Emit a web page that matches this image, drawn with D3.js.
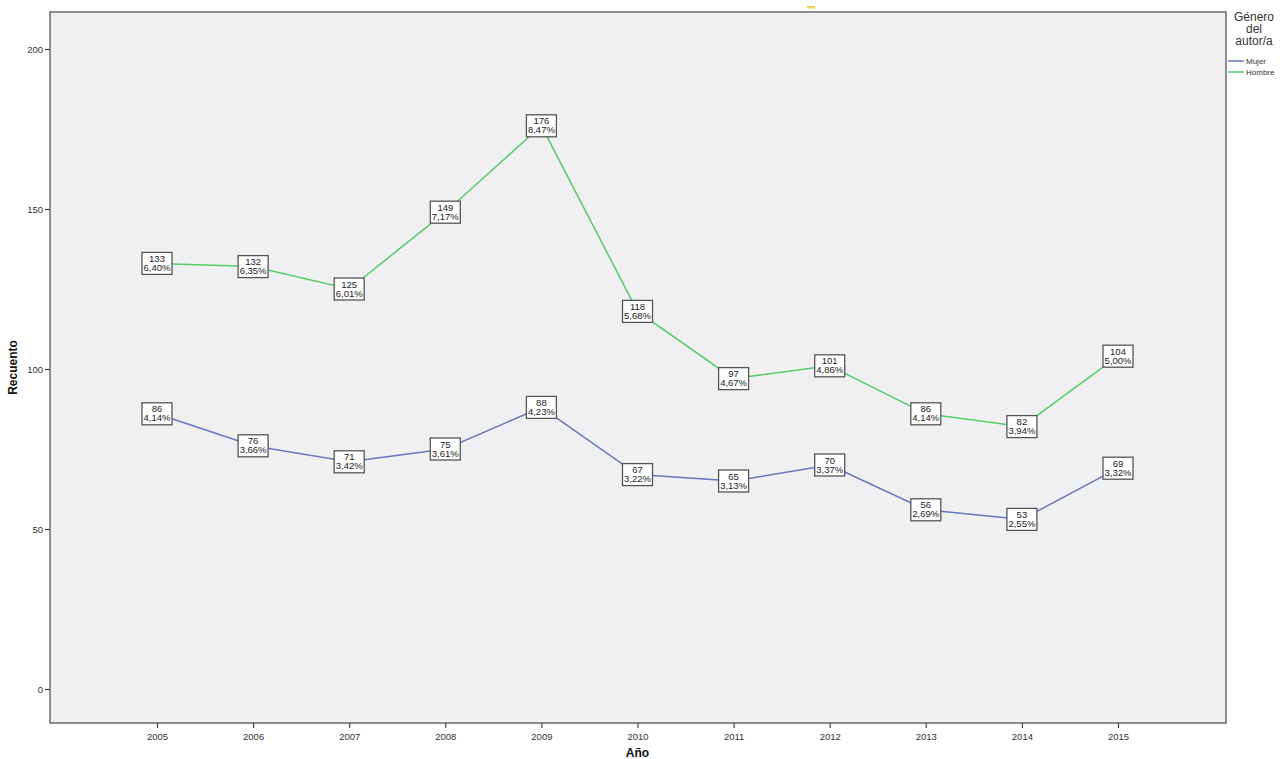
<!DOCTYPE html>
<html>
<head>
<meta charset="utf-8">
<script src="https://cdn.jsdelivr.net/npm/d3@7"></script>
<style>
  body { margin: 0; background: #fff; }
  svg { font-family: Arial, "Liberation Sans", sans-serif; }
</style>
</head>
<body>
<div id="chart"></div>
<script>
// data
const years = [2005, 2006, 2007, 2008, 2009, 2010, 2011, 2012, 2013, 2014, 2015];
const mujer = [86, 76, 71, 75, 88, 67, 65, 70, 56, 53, 69];
const mujerPct = ["4,14%", "3,66%", "3,42%", "3,61%", "4,23%", "3,22%", "3,13%", "3,37%", "2,69%", "2,55%", "3,32%"];
const hombre = [133, 132, 125, 149, 176, 118, 97, 101, 86, 82, 104];
const hombrePct = ["6,40%", "6,35%", "6,01%", "7,17%", "8,47%", "5,68%", "4,67%", "4,86%", "4,14%", "3,94%", "5,00%"];
const yTicks = [0, 50, 100, 150, 200];

const W = 1280, H = 759;
const plot = { left: 50, top: 12, right: 1226, bottom: 723 };

const svg = d3.select("#chart").append("svg")
    .attr("width", W)
    .attr("height", H);

// scales
const x = d3.scalePoint()
    .domain(years)
    .range([157, 1118]);
const y = d3.scaleLinear()
    .domain([0, 200])
    .range([689, 49]);

// plot background
svg.append("rect")
    .attr("x", plot.left)
    .attr("y", plot.top)
    .attr("width", plot.right - plot.left)
    .attr("height", plot.bottom - plot.top)
    .attr("fill", "#f0f0f2")
    .attr("stroke", "#6b6b6b")
    .attr("stroke-width", 1.5);

// axes
const yAxis = d3.axisLeft(y).tickValues(yTicks).tickSize(5).tickSizeOuter(0);
const gy = svg.append("g")
    .attr("transform", `translate(${plot.left},0)`)
    .call(yAxis);
gy.select(".domain").remove();
gy.selectAll("line").attr("stroke", "#444").attr("stroke-width", 1.2);
gy.selectAll("text").attr("font-size", 9.5).attr("fill", "#333").attr("dx", 1);

const xAxis = d3.axisBottom(x).tickSize(5).tickSizeOuter(0).tickFormat(d3.format("d"));
const gx = svg.append("g")
    .attr("transform", `translate(0,${plot.bottom})`)
    .call(xAxis);
gx.select(".domain").remove();
gx.selectAll("line").attr("stroke", "#444").attr("stroke-width", 1.2);
gx.selectAll("text").attr("font-size", 9.5).attr("fill", "#333").attr("dy", "0.9em");

// axis titles
svg.append("text")
    .attr("transform", `translate(17,${(plot.top + plot.bottom) / 2}) rotate(-90)`)
    .attr("text-anchor", "middle")
    .attr("font-size", 12)
    .attr("font-weight", "bold")
    .attr("fill", "#111")
    .text("Recuento");

svg.append("text")
    .attr("x", x(2010))
    .attr("y", 757)
    .attr("text-anchor", "middle")
    .attr("font-size", 12)
    .attr("font-weight", "bold")
    .attr("fill", "#111")
    .text("Año");

// lines
const series = [
    { name: "Mujer", values: mujer, pct: mujerPct, color: "#6677bb" },
    { name: "Hombre", values: hombre, pct: hombrePct, color: "#55cc66" }
];

const line = d3.line()
    .x((d, i) => x(years[i]))
    .y(d => y(d));

series.forEach(s => {
    svg.append("path")
        .datum(s.values)
        .attr("fill", "none")
        .attr("stroke", s.color)
        .attr("stroke-width", 1.5)
        .attr("d", line);
});

// point labels (boxes centred on the points)
series.forEach(s => {
    const g = svg.append("g").selectAll("g")
        .data(s.values)
        .enter()
        .append("g")
        .attr("transform", (d, i) => `translate(${x(years[i])},${y(d)})`);
    g.append("rect")
        .attr("x", -15)
        .attr("y", -11)
        .attr("width", 30)
        .attr("height", 22)
        .attr("fill", "#fff")
        .attr("stroke", "#555")
        .attr("stroke-width", 1.3);
    g.append("text")
        .attr("y", -1.5)
        .attr("text-anchor", "middle")
        .attr("font-size", 9.5)
        .attr("fill", "#222")
        .text(d => d);
    g.append("text")
        .attr("y", 7.5)
        .attr("text-anchor", "middle")
        .attr("font-size", 9.5)
        .attr("fill", "#222")
        .text((d, i) => s.pct[i]);
});

// legend
const lg = svg.append("g");
["Género", "del", "autor/a"].forEach((t, i) => {
    lg.append("text")
        .attr("x", 1254)
        .attr("y", 21 + i * 12)
        .attr("text-anchor", "middle")
        .attr("font-size", 12)
        .attr("fill", "#333")
        .text(t);
});
series.forEach((s, i) => {
    const yy = 61 + i * 11;
    lg.append("line")
        .attr("x1", 1228).attr("x2", 1244)
        .attr("y1", yy).attr("y2", yy)
        .attr("stroke", s.color)
        .attr("stroke-width", 1.5);
    lg.append("text")
        .attr("x", 1246)
        .attr("y", yy + 3)
        .attr("font-size", 8)
        .attr("fill", "#333")
        .text(s.name);
});

// small yellow mark at top
svg.append("rect")
    .attr("x", 807).attr("y", 6)
    .attr("width", 8).attr("height", 2.5)
    .attr("fill", "#f2cf4a");
</script>
</body>
</html>
